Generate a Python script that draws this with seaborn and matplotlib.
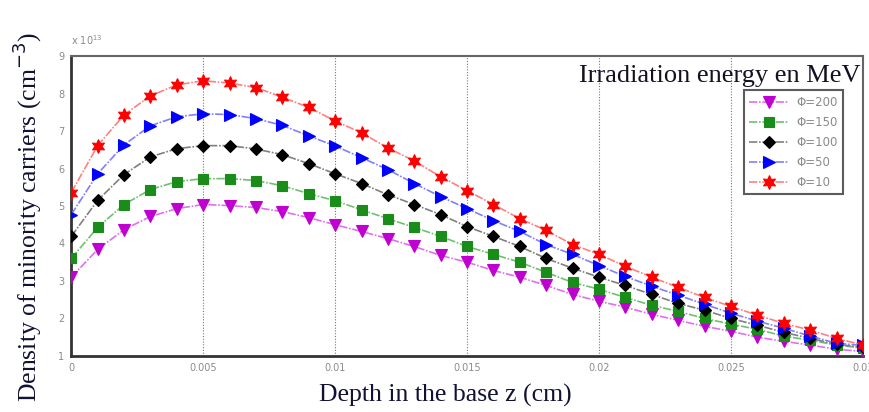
import numpy as np
import pandas as pd
import matplotlib
matplotlib.use("Agg")
import matplotlib.pyplot as plt
import seaborn as sns

# depth in the base (cm), one point every 0.001 cm
depth = [round(0.001 * i, 3) for i in range(31)]

# density of minority carriers, in units of 1e13 cm^-3
phi_200 = [3.10, 3.84, 4.37, 4.72, 4.93, 5.04, 5.01, 4.96, 4.85, 4.69, 4.50,
           4.32, 4.13, 3.92, 3.68, 3.50, 3.28, 3.10, 2.88, 2.64, 2.46, 2.30,
           2.11, 1.95, 1.79, 1.66, 1.50, 1.39, 1.29, 1.18, 1.12]
phi_150 = [3.60, 4.43, 5.04, 5.44, 5.65, 5.73, 5.73, 5.68, 5.54, 5.33, 5.14,
           4.90, 4.66, 4.43, 4.19, 3.92, 3.71, 3.50, 3.23, 2.96, 2.78, 2.56,
           2.35, 2.19, 2.00, 1.85, 1.71, 1.53, 1.42, 1.29, 1.21]
phi_100 = [4.19, 5.15, 5.84, 6.31, 6.53, 6.61, 6.61, 6.52, 6.37, 6.13, 5.86,
           5.60, 5.30, 5.04, 4.77, 4.45, 4.19, 3.92, 3.60, 3.34, 3.10, 2.88,
           2.64, 2.40, 2.22, 2.00, 1.82, 1.63, 1.47, 1.31, 1.23]
phi_50 = [4.77, 5.86, 6.63, 7.14, 7.38, 7.46, 7.44, 7.33, 7.15, 6.87, 6.60,
          6.29, 5.97, 5.60, 5.25, 4.93, 4.61, 4.32, 3.97, 3.71, 3.41, 3.12,
          2.86, 2.62, 2.38, 2.14, 1.93, 1.74, 1.53, 1.34, 1.28]
phi_10 = [5.36, 6.61, 7.43, 7.94, 8.23, 8.34, 8.28, 8.16, 7.90, 7.63, 7.27,
          6.95, 6.55, 6.20, 5.78, 5.41, 5.04, 4.66, 4.35, 3.97, 3.71, 3.39,
          3.10, 2.83, 2.56, 2.32, 2.09, 1.87, 1.69, 1.47, 1.29]

series_labels = ["\u03a6=200", "\u03a6=150", "\u03a6=100", "\u03a6=50", "\u03a6=10"]
series_values = [phi_200, phi_150, phi_100, phi_50, phi_10]

x_ticks = [0, 0.005, 0.01, 0.015, 0.02, 0.025, 0.03]
x_tick_labels = ["0", "0.005", "0.01", "0.015", "0.02", "0.025", "0.03"]
y_ticks = [1, 2, 3, 4, 5, 6, 7, 8, 9]

# styling per series
marker_colors = ["#c000d0", "#1a8c1a", "#000000", "#0000ff", "#ff0000"]
line_colors = ["#e070f0", "#70c070", "#808080", "#8080ff", "#ff8080"]
markers = ["v", "s", "D", ">", (6, 1, 0)]
marker_sizes = [8.5, 7, 6.5, 8.5, 10]

sns.set_style("white")
plt.rcParams["font.family"] = ["DejaVu Sans"]

fig = plt.figure(figsize=(8.69, 4.12), dpi=100)
ax = fig.add_axes([0.082, 0.136, 0.911, 0.728])

for label, vals, mc, lc, mk, ms in zip(series_labels, series_values,
                                       marker_colors, line_colors,
                                       markers, marker_sizes):
    df = pd.DataFrame({"depth": depth, "density": vals})
    sns.lineplot(data=df, x="depth", y="density", ax=ax, label=label,
                 color=lc, linewidth=1.2, linestyle=(0, (5, 1, 1, 1)),
                 marker=mk, markersize=ms, markerfacecolor=mc,
                 markeredgecolor=mc, markeredgewidth=0.8, zorder=3)

ax.set_xlim(0, 0.03)
ax.set_ylim(1, 9)
ax.set_xticks(x_ticks)
ax.set_xticklabels(x_tick_labels)
ax.set_yticks(y_ticks)
ax.tick_params(axis="both", direction="in", length=4, width=1,
               colors="#444444", labelcolor="#8a8a8a", labelsize=7, pad=5)

# vertical dotted grid only
for xv in x_ticks[1:-1]:
    ax.axvline(xv, color="#777777", linestyle=(0, (1, 1.5)), linewidth=0.8,
               zorder=1)

for side in ["left", "bottom"]:
    ax.spines[side].set_linewidth(2.0)
    ax.spines[side].set_color("#333333")
for side in ["top", "right"]:
    ax.spines[side].set_linewidth(1.5)
    ax.spines[side].set_color("#666666")

ax.set_xlabel("")
ax.set_ylabel("")
fig.text(0.512, 0.041, "Depth in the base z (cm)", family=["Liberation Serif"],
         fontsize=18.5, color="#111133", ha="center", va="center")
fig.text(0.032, 0.473, "Density of minority carriers (cm$^{-3}$)",
         family=["Liberation Serif"], fontsize=18.5, color="#111133",
         rotation=90, ha="center", va="center")

ax.text(0.0, 1.03, "x 10$^{13}$", transform=ax.transAxes, fontsize=7,
        color="#8a8a8a", ha="left", va="bottom")

ax.text(0.997, 0.935, "Irradiation energy en MeV", transform=ax.transAxes,
        family=["Liberation Serif"], fontsize=19, color="#111122",
        ha="right", va="center")

leg = ax.legend(loc="upper right", bbox_to_anchor=(0.982, 0.905),
                fontsize=8.5, frameon=True, fancybox=False,
                handlelength=3.4, borderpad=0.45, labelspacing=0.6,
                handletextpad=0.6)
leg.get_frame().set_edgecolor("#333333")
leg.get_frame().set_linewidth(1.5)
for t in leg.get_texts():
    t.set_color("#8a8a8a")

fig.savefig("out.png", dpi=100)
